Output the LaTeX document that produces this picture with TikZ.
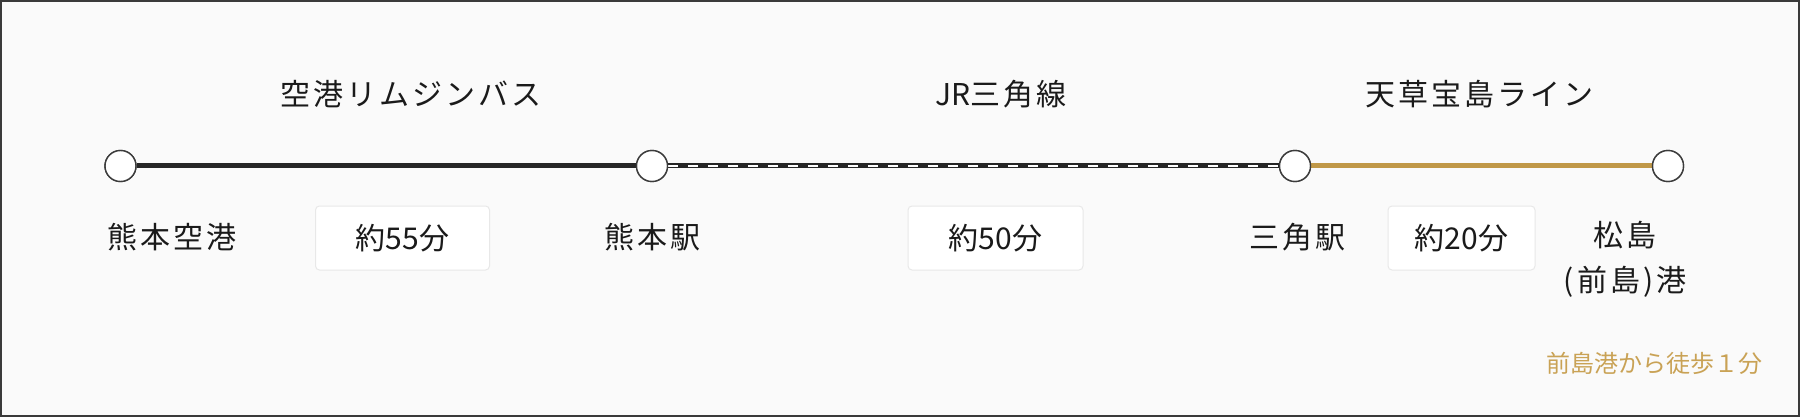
\documentclass[tikz,border=0pt]{standalone}
\usepackage{fontspec}
\setmainfont{Noto Sans CJK JP}
\newfontfamily\jpls[LetterSpace=10]{Noto Sans CJK JP}
\newfontfamily\jptight{Noto Sans CJK JP}
\definecolor{bg}{HTML}{FAFAFA}
\definecolor{ink}{HTML}{1A1A1A}
\definecolor{rail}{HTML}{262626}
\definecolor{gold}{HTML}{C09848}
\definecolor{goldtext}{HTML}{C9A255}
\definecolor{boxline}{HTML}{E8E8E8}
\definecolor{frame}{HTML}{3A3A3A}
\begin{document}
\begin{tikzpicture}[x=1pt,y=-1pt,
  station/.style={circle,draw=ink!85,fill=white,line width=1.4pt,minimum size=31pt,inner sep=0pt},
  lbl/.style={text=ink,font=\jpls\fontsize{30}{45}\selectfont,inner sep=0pt,anchor=center,align=center},
  durbox/.style={draw=boxline,fill=white,rounded corners=4pt,minimum height=64pt,line width=1pt,
                 font=\fontsize{30}{36}\selectfont,text=ink,inner sep=0pt,anchor=center},
  railline/.style={draw=rail,line width=5pt},
  raildash/.style={draw=white,line width=1.6pt,dash pattern=on 10pt off 10pt},
  goldline/.style={draw=gold,line width=5pt},
  note/.style={text=goldtext,font=\fontsize{24}{28}\selectfont,inner sep=0pt}
]
\useasboundingbox (0,0) rectangle (1800,417);
\fill[bg] (0,0) rectangle (1800,417);
\draw[frame,line width=2pt] (1,1) rectangle (1799,416);

% stations
\node[station] (s1) at (120.5,166) {};
\node[station] (s2) at (652,166) {};
\node[station] (s3) at (1295,166) {};
\node[station] (s4) at (1668,166) {};

% lines
\path[railline] (s1) -- (s2);
\path[railline] (s2) -- (s3);
\path[raildash] (s2) -- (s3);
\path[goldline] (s3) -- (s4);

% redraw stations on top
\node[station] at (s1) {};
\node[station] at (s2) {};
\node[station] at (s3) {};
\node[station] at (s4) {};

% line names
\node[lbl] (n1) at (411,94) {空港リムジンバス};
\node[lbl] (n2) at (1001,94) {{\jptight\fontsize{30}{45}\selectfont JR}三角線};
\node[lbl] (n3) at (1479,94) {天草宝島ライン};

% station names
\node[lbl] (l1) at (172,237) {熊本空港};
\node[lbl] (l2) at (652,237) {熊本駅};
\node[lbl] (l3) at (1297,237) {三角駅};
\node[lbl] (l4) at (1625,259.5) {松島\\(前島)港};

% durations
\node[durbox,minimum width=174pt] (d1) at (402.5,238) {約55分};
\node[durbox,minimum width=175pt] (d2) at (995.5,238) {約50分};
\node[durbox,minimum width=147pt] (d3) at (1461.5,238) {約20分};

% note
\node[note,anchor=east] (nt) at (1763,363) {前島港から徒歩１分};
\end{tikzpicture}
\end{document}
